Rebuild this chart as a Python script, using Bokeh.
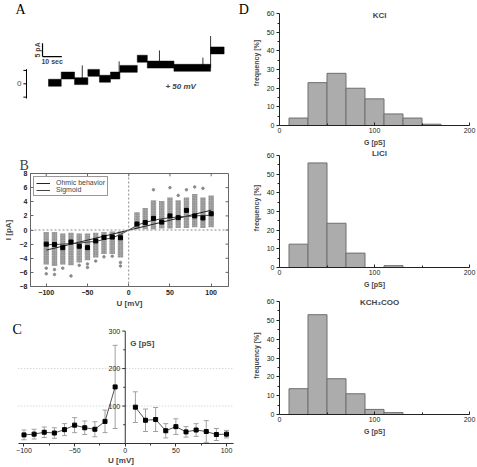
import math
from bokeh.plotting import figure
from bokeh.layouts import row, column
from bokeh.models import (Range1d, FixedTicker, Label, Span, Whisker, ColumnDataSource,
                          Legend, LegendItem, TeeHead)
from bokeh.core.properties import value
from bokeh.embed import file_html
from bokeh.resources import INLINE

SANS = "Liberation Sans"
SERIF = "Liberation Serif"

# ---------------- Panel A: single-channel current trace ----------------
trace_t_edges = [0, 6.6, 13.5, 20.4, 26.4, 32.1, 37.0, 46.0, 51.2, 65.0, 84.0, 91.0]   # s
trace_levels = [0.4, 3.1, 1.0, 4.1, 1.9, 3.1, 5.6, 9.4, 7.2, 6.0, 12.5]              # pA
trace_noise = 1.3
spike_t = [17.5, 36.6, 57.5, 80.0, 84.0]
spike_base = [1.0, 3.1, 7.2, 6.0, 6.0]
spike_peak = [6.9, 8.4, 12.5, 9.8, 17.9]
scale_t0, scale_I0, scale_dt, scale_dI = -3.1, 10.2, 10, 5
zero_axis_ticks = [-5, 0, 5]

# ---------------- Panel B: I/V scatter ----------------
iv_voltage = [-100, -90, -80, -70, -60, -50, -40, -30, -20, -10,
              10, 20, 30, 40, 50, 60, 70, 80, 90, 100]
iv_mean = [-2.0, -2.05, -2.5, -1.7, -2.3, -2.5, -1.55, -1.05, -1.0, -1.1,
           0.85, 1.05, 1.65, 1.12, 2.0, 1.75, 2.78, 2.0, 1.7, 2.3]
iv_low = [-4.9, -5.1, -4.9, -5.0, -4.6, -4.3, -3.9, -3.4, -3.4, -3.9,
          0.1, 0.1, 0.1, 0.2, 0.2, 0.3, 0.3, 0.4, 0.3, 0.4]
iv_high = [-0.3, -0.3, -0.5, -0.4, -0.5, -0.5, -0.4, -0.3, -0.2, -0.2,
           2.5, 3.1, 4.2, 4.1, 4.6, 4.2, 4.6, 5.1, 4.6, 4.9]
out_u = [-100, -100, -90, -90, -80, -70, -60, -50, -50, -40, -30, -20, -10, -10,
         30, 50, 60, 70, 80, 90]
out_i = [-5.4, -6.2, -5.6, -6.3, -5.4, -6.5, -5.0, -4.8, -5.3, -4.4, -3.8, -3.7, -4.6, -5.1,
         5.7, 6.0, 4.9, 5.7, 6.1, 5.9]
ohm_u = [-100, 100]
ohm_i = [-2.85, 2.8]
sig_u = [-100, -80, -60, -40, -20, -10, 0, 10, 20, 40, 60, 80, 100]
sig_i = [-2.1, -2.0, -1.85, -1.6, -1.1, -0.65, 0, 0.65, 1.1, 1.6, 1.85, 2.0, 2.1]
b_xticks = [-100, -50, 0, 50, 100]
b_yticks = [-8, -6, -4, -2, 0, 2, 4, 6, 8]

# ---------------- Panel C: conductance vs voltage ----------------
g_voltage = [-100, -90, -80, -70, -60, -50, -40, -30, -20, -10,
             10, 20, 30, 40, 50, 60, 70, 80, 90, 100]
g_mean = [23, 25, 30, 28, 37, 49, 42, 38, 59, 151, 97, 62, 64, 34, 45, 31, 36, 32, 24, 25]
g_err = [13, 13, 14, 14, 16, 20, 18, 20, 30, 111, 41, 30, 32, 19, 21, 14, 17, 29, 16, 10]
c_yticks = [100, 200, 300]
c_yminor = [50, 150, 250]
c_grid = [100, 200]

# ---------------- Panel D: conductance histograms ----------------
bin_left = [10, 30, 50, 70, 90, 110, 130, 150]
bin_width = 20
kcl_freq = [4.0, 23.0, 28.0, 20.0, 14.3, 6.2, 4.0, 0.7]
licl_freq = [12.5, 56.0, 23.7, 7.7, 0.0, 1.0, 0.0, 0.0]
kac_freq = [13.7, 53.0, 19.0, 11.0, 2.7, 1.0, 0.0, 0.0]


def base_fig(**kw):
    p = figure(output_backend="svg", toolbar_location=None, **kw)
    p.grid.visible = False
    p.background_fill_color = "white"
    p.border_fill_color = "white"
    return p


def letter(p, x, y, txt):
    p.add_layout(Label(x=x, y=y, text=txt, text_font=SERIF, text_font_size="14px",
                       text_align="left", text_baseline="top", text_color="black"))


# ---------- A (frame = whole figure; data units: s / pA) ----------
pA = base_fig(width=249, height=150, x_range=Range1d(-24.87, 104.15), y_range=Range1d(-24.98, 31.2),
              min_border_left=0, min_border_right=0, min_border_top=0, min_border_bottom=0,
              x_axis_location=None, y_axis_location=None)
pA.outline_line_color = None
axis_t = -11.4      # where the small current axis is drawn
tick_len = 1.6
pA.segment(x0=[axis_t], y0=[zero_axis_ticks[0] - 0.5], x1=[axis_t], y1=[zero_axis_ticks[-1] + 0.5],
           line_color="black", line_width=1)
pA.segment(x0=[axis_t] * 3, y0=zero_axis_ticks, x1=[axis_t - tick_len] * 3, y1=zero_axis_ticks,
           line_color="black", line_width=1)
pA.add_layout(Label(x=axis_t - tick_len - 1.0, y=0, text="0", text_align="right",
                    text_baseline="middle", text_font=SANS, text_font_size="8px"))
pA.quad(left=trace_t_edges[:-1], right=trace_t_edges[1:],
        bottom=[l - trace_noise for l in trace_levels], top=[l + trace_noise for l in trace_levels],
        fill_color="black", line_color="black", line_width=0.5)
pA.segment(x0=spike_t, y0=spike_base, x1=spike_t, y1=spike_peak, line_color="black", line_width=0.8)
pA.segment(x0=[scale_t0, scale_t0], y0=[scale_I0, scale_I0],
           x1=[scale_t0, scale_t0 + scale_dt], y1=[scale_I0 + scale_dI, scale_I0],
           line_color="black", line_width=1.2)
pA.add_layout(Label(x=scale_t0 - 0.8, y=scale_I0 + scale_dI / 2, text="5 pA", angle=math.pi / 2,
                    text_align="center", text_baseline="bottom", text_font=SANS,
                    text_font_size="7px", text_font_style="bold"))
pA.add_layout(Label(x=scale_t0 + scale_dt / 2, y=scale_I0 - 0.4, text="10 sec",
                    text_align="center", text_baseline="top", text_font=SANS,
                    text_font_size="7px", text_font_style="bold"))
pA.add_layout(Label(x=60.6, y=-0.9, text="+ 50 mV", text_align="left", text_baseline="middle",
                    text_font=SANS, text_font_size="8px", text_font_style="bold italic"))
letter(pA, -17.1, 30.6, "A")
letter(pA, 98.6, 30.6, "D")

# ---------- B ----------
pB = base_fig(width=249, height=160, x_range=Range1d(-119.1, 121.0), y_range=Range1d(-8, 8),
              min_border_left=27, min_border_right=21, min_border_top=23, min_border_bottom=22)
pB.outline_line_color = "#666"
pB.title.text = "B"
pB.title.align = "left"
pB.title.offset = -11
pB.title.standoff = 1
pB.title.text_font = SERIF
pB.title.text_font_size = "14px"
pB.title.text_font_style = "normal"
for ax, ticks in ((pB.xaxis[0], b_xticks), (pB.yaxis[0], b_yticks)):
    ax.ticker = FixedTicker(ticks=ticks)
    ax.major_tick_in = 3
    ax.major_tick_out = 0
    ax.minor_tick_line_color = None
    ax.axis_line_color = "#666"
    ax.major_tick_line_color = "#666"
    ax.major_label_text_font = SANS
    ax.major_label_text_font_size = "7px"
    ax.major_label_text_font_style = "bold"
    ax.major_label_text_color = "#222"
    ax.major_label_standoff = 3
    ax.axis_label_text_font = SANS
    ax.axis_label_text_font_size = "8px"
    ax.axis_label_text_font_style = "bold"
    ax.axis_label_standoff = 2
pB.xaxis.axis_label = "U [mV]"
pB.xaxis.axis_label_standoff = 1
pB.yaxis.axis_label = "I [pA]"
pB.yaxis.axis_label_standoff = 4
# inner ticks on the top and right edges of the box
pB.segment(x0=b_xticks, y0=[8] * len(b_xticks), x1=b_xticks, y1=[7.6] * len(b_xticks),
           line_color="#666", line_width=1)
pB.segment(x0=[121.0] * len(b_yticks), y0=b_yticks, x1=[117.4] * len(b_yticks), y1=b_yticks,
           line_color="#666", line_width=1)
pB.add_layout(Span(location=0, dimension="height", line_dash="2 2", line_color="#888", line_width=1))
pB.add_layout(Span(location=0, dimension="width", line_dash="2 2", line_color="#888", line_width=1))
pB.rect(x=iv_voltage, y=[(a + b) / 2 for a, b in zip(iv_low, iv_high)], width=6.5,
        height=[b - a for a, b in zip(iv_low, iv_high)],
        fill_color="#a4a4a4", fill_alpha=1, line_color=None,
        hatch_pattern="dot", hatch_color="#767676", hatch_scale=2.5, hatch_weight=1.2)
pB.scatter(out_u, out_i, size=2.5, color="#8a8a8a")
r_ohm = pB.line(ohm_u, ohm_i, line_color="#222", line_width=1)
r_sig = pB.line(sig_u, sig_i, line_color="#444", line_width=1)
pB.scatter(iv_voltage, iv_mean, marker="square", size=4, color="black")
leg = Legend(items=[LegendItem(label="Ohmic behavior", renderers=[r_ohm]),
                    LegendItem(label="Sigmoid", renderers=[r_sig])],
             location="top_left", label_text_font=SANS, label_text_font_size="7px",
             glyph_width=14, glyph_height=6, label_height=6, spacing=0, padding=2, margin=3,
             label_standoff=6, border_line_color="#333", background_fill_alpha=1)
pB.add_layout(leg)

# ---------- C (vertical axis drawn at U = 0) ----------
pC = base_fig(width=249, height=157, x_range=Range1d(-123.2, 114.8), y_range=Range1d(0, 354.9),
              min_border_left=0, min_border_right=8, min_border_top=0, min_border_bottom=21,
              y_axis_location=None)
pC.outline_line_color = None
xc = pC.xaxis[0]
xc.bounds = (-105.6, 106.9)
xc.ticker = FixedTicker(ticks=[-100, -50, 0, 50, 100], minor_ticks=[-75, -25, 25, 75])
xc.major_tick_out = 3
xc.major_tick_in = 0
xc.minor_tick_out = 2
xc.minor_tick_in = 0
xc.axis_line_color = "#333"
xc.major_tick_line_color = "#333"
xc.minor_tick_line_color = "#333"
xc.major_label_text_font = SANS
xc.major_label_text_font_size = "7px"
xc.major_label_text_color = "#222"
xc.major_label_standoff = 1
xc.axis_label = "U [mV]"
xc.axis_label_text_font = SANS
xc.axis_label_text_font_size = "8px"
xc.axis_label_text_font_style = "bold"
xc.axis_label_standoff = 0
pC.segment(x0=[-105.6] * len(c_grid), y0=c_grid, x1=[106.9] * len(c_grid), y1=c_grid,
           line_color="#c4c4c4", line_dash="1 2", line_width=1)
pC.segment(x0=[0], y0=[0], x1=[0], y1=[c_yticks[-1]], line_color="#333", line_width=1)
pC.segment(x0=[0] * 3, y0=c_yticks, x1=[-3] * 3, y1=c_yticks, line_color="#333", line_width=1)
pC.segment(x0=[0] * 3, y0=c_yminor, x1=[-2] * 3, y1=c_yminor, line_color="#333", line_width=1)
pC.text(x=[0] * 3, y=c_yticks, text=[str(t) for t in c_yticks], x_offset=-5,
        text_align="right", text_baseline="middle", text_font=value(SANS),
        text_font_size=value("7px"), text_color="#222")
src_c = ColumnDataSource(dict(v=g_voltage, up=[m + e for m, e in zip(g_mean, g_err)],
                              lo=[m - e for m, e in zip(g_mean, g_err)]))
pC.add_layout(Whisker(source=src_c, base="v", upper="up", lower="lo", line_color="#a0a0a0",
                      line_width=1,
                      upper_head=TeeHead(size=5, line_color="#a0a0a0", line_width=1),
                      lower_head=TeeHead(size=5, line_color="#a0a0a0", line_width=1)))
neg = [i for i, v in enumerate(g_voltage) if v < 0]
pos = [i for i, v in enumerate(g_voltage) if v > 0]
pC.line([g_voltage[i] for i in neg], [g_mean[i] for i in neg], line_color="#555", line_width=1)
pC.line([g_voltage[i] for i in pos], [g_mean[i] for i in pos], line_color="#555", line_width=1)
pC.scatter(g_voltage, g_mean, marker="square", size=4, color="black")
pC.add_layout(Label(x=5, y=266, text="G [pS]", text_align="left", text_baseline="middle",
                    text_font=SANS, text_font_size="8px", text_font_style="bold"))
letter(pC, -111.3, 323.5, "C")


# ---------- D ----------
def hist_fig(freq, title, height, ytop, bottom, title_y):
    p = base_fig(width=228, height=height, x_range=Range1d(0, 200), y_range=Range1d(0, ytop),
                 min_border_left=25, min_border_right=8, min_border_top=0, min_border_bottom=bottom)
    p.outline_line_color = None
    p.quad(left=bin_left, right=[b + bin_width for b in bin_left], bottom=0, top=freq,
           fill_color="#acacac", line_color="#6e6e6e", line_width=1)
    xa = p.xaxis[0]
    xa.ticker = FixedTicker(ticks=[0, 100, 200], minor_ticks=[50, 150])
    xa.major_tick_in = 3
    xa.major_tick_out = 0
    xa.minor_tick_in = 2
    xa.minor_tick_out = 0
    ya_ = p.yaxis[0]
    ya_.bounds = (0, 60)
    ya_.ticker = FixedTicker(ticks=list(range(0, 61, 10)), minor_ticks=list(range(5, 60, 10)))
    ya_.major_tick_out = 3
    ya_.major_tick_in = 0
    ya_.minor_tick_out = 2
    ya_.minor_tick_in = 0
    for ax in (xa, ya_):
        ax.axis_line_color = "#222"
        ax.major_tick_line_color = "#222"
        ax.minor_tick_line_color = "#222"
        ax.major_label_text_font = SANS
        ax.major_label_text_font_size = "7px"
        ax.major_label_text_color = "#222"
        ax.major_label_standoff = 2
        ax.axis_label_text_font = SANS
        ax.axis_label_text_font_size = "7px"
        ax.axis_label_text_font_style = "bold"
        ax.axis_label_standoff = 3
    ya_.axis_label_standoff = 4
    xa.axis_label = "G [pS]"
    ya_.axis_label = "frequency [%]"
    p.add_layout(Label(x=105.3, y=title_y, text=title, text_align="center", text_baseline="middle",
                       text_font=SANS, text_font_size="8px", text_font_style="bold"))
    return p


pD1 = hist_fig(kcl_freq, "KCl", 148, 67.1, 22, 59.1)
pD2 = hist_fig(licl_freq, "LiCl", 148, 63.74, 29, 61.3)
pD3 = hist_fig(kac_freq, "KCH\u2083COO", 171, 62.66, 53, 59.6)

left = column(row(pA), row(pB), row(pC), spacing=0)
right = column(row(pD1), row(pD2), row(pD3), spacing=0)
layout = row(left, right, spacing=0)
open("out.html", "w").write(file_html(layout, INLINE))
